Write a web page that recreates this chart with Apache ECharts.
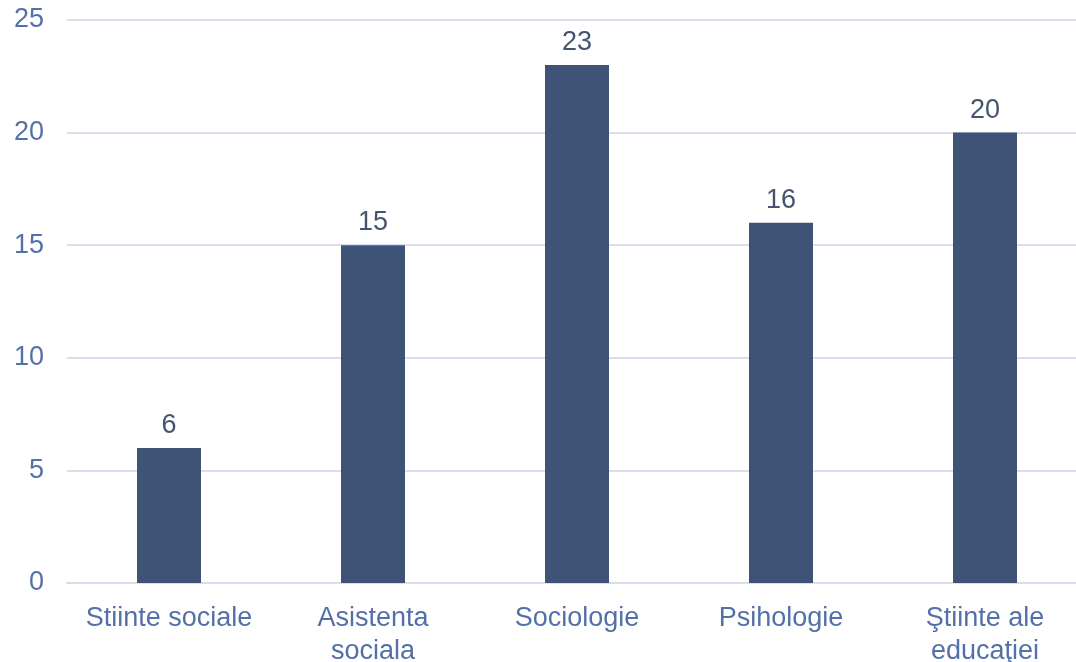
<!DOCTYPE html>
<html>
<head>
<meta charset="utf-8">
<script src="https://cdn.jsdelivr.net/npm/echarts@6/dist/echarts.min.js"></script>
<style>
  html, body { margin: 0; padding: 0; background: #fff; }
  #chart { width: 1076px; height: 662px; }
</style>
</head>
<body>
<div id="chart"></div>
<script>
// categories and values
const categories = ["Stiinte sociale", "Asistenta\nsociala", "Sociologie", "Psihologie", "Ştiinte ale\neducaţiei"];
const counts = [6, 15, 23, 16, 20];
const yTicks = { min: 0, max: 25, interval: 5 };

const chart = echarts.init(document.getElementById("chart"));

const option = {
    animation: false,
    textStyle: { fontFamily: "Liberation Sans, Arial, sans-serif" },
    // plot runs a little past the right edge, like the original
    grid: { left: 67, right: -11, top: 20, bottom: 79, outerBoundsMode: "none" },
    xAxis: {
        type: "category",
        data: categories,
        axisLine: { show: true, lineStyle: { color: "#D9DEEC", width: 2 } },
        axisTick: { show: false },
        axisLabel: {
            color: "#5470A8",
            fontSize: 27,
            lineHeight: 33,
            margin: 19,
            interval: 0,
        },
    },
    yAxis: {
        type: "value",
        min: yTicks.min,
        max: yTicks.max,
        interval: yTicks.interval,
        axisLine: { show: false },
        axisTick: { show: false },
        axisLabel: { color: "#5470A8", fontSize: 27, margin: 23, padding: [6, 0, 0, 0] },
        splitLine: { lineStyle: { color: "#D9DEEC", width: 2 } },
    },
    series: [
        {
            type: "bar",
            data: counts,
            barWidth: 64,
            itemStyle: { color: "#3F5377" },
            label: {
                show: true,
                position: "top",
                distance: 9,
                color: "#44546F",
                fontSize: 27,
            },
        },
    ],
};

chart.setOption(option);
</script>
</body>
</html>
